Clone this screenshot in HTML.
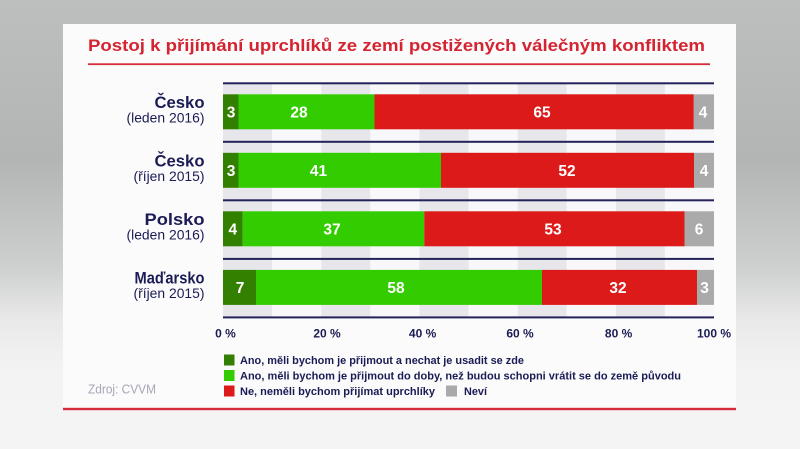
<!DOCTYPE html>
<html><head><meta charset="utf-8"><style>
html,body{margin:0;padding:0;}
body{width:800px;height:449px;overflow:hidden;background:linear-gradient(to bottom,#bdbebe 0px,#b3b4b4 160px,#cfd0d0 270px,#e9e9e9 320px,#f3f3f3 370px,#f4f4f4 449px);}
svg{display:block;}
text{font-family:"Liberation Sans",sans-serif;}
</style></head><body>
<svg width="800" height="449" viewBox="0 0 800 449" xmlns="http://www.w3.org/2000/svg">
<rect x="63" y="24" width="673" height="385" fill="#fbfbfb"/>
<rect x="63" y="407.8" width="673" height="2.4" fill="#d52b3b"/>
<text x="88" y="51" font-size="17" font-weight="bold" fill="#d42331" textLength="617" lengthAdjust="spacingAndGlyphs">Postoj k přijímání uprchlíků ze zemí postižených válečným konfliktem</text>
<rect x="88" y="63.3" width="622" height="1.8" fill="#d52b3b"/>
<g fill="#e6e6eb">
<rect x="223" y="84" width="49.1" height="233"/>
<rect x="321.2" y="84" width="49.1" height="233"/>
<rect x="419.4" y="84" width="49.1" height="233"/>
<rect x="517.6" y="84" width="49.1" height="233"/>
<rect x="615.8" y="84" width="49.1" height="233"/>
</g>
<g fill="#f8f8fa">
<rect x="272.1" y="84" width="49.1" height="233"/>
<rect x="370.3" y="84" width="49.1" height="233"/>
<rect x="468.5" y="84" width="49.1" height="233"/>
<rect x="566.7" y="84" width="49.1" height="233"/>
<rect x="664.9" y="84" width="49.1" height="233"/>
</g>
<g fill="#23235a">
<rect x="223" y="82.3" width="491" height="2"/>
<rect x="223" y="140.8" width="491" height="2"/>
<rect x="223" y="199.3" width="491" height="2"/>
<rect x="223" y="257.9" width="491" height="2"/>
<rect x="223" y="316.4" width="491" height="2"/>
</g>
<rect x="223" y="94.3" width="15.5" height="35" fill="#338000"/>
<rect x="238.5" y="94.3" width="136" height="35" fill="#33cc00"/>
<rect x="374.5" y="94.3" width="319.3" height="35" fill="#dd1a1a"/>
<rect x="693.8" y="94.3" width="20.2" height="35" fill="#aaaaaa"/>
<rect x="223" y="152.8" width="15.5" height="35" fill="#338000"/>
<rect x="238.5" y="152.8" width="202.5" height="35" fill="#33cc00"/>
<rect x="441" y="152.8" width="253" height="35" fill="#dd1a1a"/>
<rect x="694" y="152.8" width="20" height="35" fill="#aaaaaa"/>
<rect x="223" y="211.3" width="19.6" height="35" fill="#338000"/>
<rect x="242.6" y="211.3" width="181.7" height="35" fill="#33cc00"/>
<rect x="424.3" y="211.3" width="260.2" height="35" fill="#dd1a1a"/>
<rect x="684.5" y="211.3" width="29.5" height="35" fill="#aaaaaa"/>
<rect x="223" y="269.9" width="33" height="35" fill="#338000"/>
<rect x="256" y="269.9" width="286" height="35" fill="#33cc00"/>
<rect x="542" y="269.9" width="155" height="35" fill="#dd1a1a"/>
<rect x="697" y="269.9" width="17" height="35" fill="#aaaaaa"/>
<g fill="#ffffff" font-size="15.5" font-weight="bold" text-anchor="middle">
<text x="231" y="117.5">3</text>
<text x="299" y="117.5">28</text>
<text x="542" y="117.5">65</text>
<text x="703" y="117.5">4</text>
<text x="231" y="176">3</text>
<text x="318.5" y="176">41</text>
<text x="567" y="176">52</text>
<text x="704" y="176">4</text>
<text x="232.8" y="234.5">4</text>
<text x="332" y="234.5">37</text>
<text x="553" y="234.5">53</text>
<text x="699" y="234.5">6</text>
<text x="240" y="293.1">7</text>
<text x="396" y="293.1">58</text>
<text x="618" y="293.1">32</text>
<text x="704.5" y="293.1">3</text>
</g>
<g fill="#1b1b55" text-anchor="end">
<text x="204.5" y="108" font-size="17" font-weight="bold" textLength="50" lengthAdjust="spacingAndGlyphs">Česko</text>
<text x="204.5" y="122.5" font-size="13.5" textLength="78" lengthAdjust="spacingAndGlyphs">(leden 2016)</text>
<text x="204.5" y="166.5" font-size="17" font-weight="bold" textLength="50" lengthAdjust="spacingAndGlyphs">Česko</text>
<text x="204.5" y="181" font-size="13.5" textLength="71" lengthAdjust="spacingAndGlyphs">(říjen 2015)</text>
<text x="204.5" y="225" font-size="17" font-weight="bold" textLength="60" lengthAdjust="spacingAndGlyphs">Polsko</text>
<text x="204.5" y="239.5" font-size="13.5" textLength="78" lengthAdjust="spacingAndGlyphs">(leden 2016)</text>
<text x="204.5" y="283.6" font-size="17" font-weight="bold" textLength="70" lengthAdjust="spacingAndGlyphs">Maďarsko</text>
<text x="204.5" y="298.1" font-size="13.5" textLength="71" lengthAdjust="spacingAndGlyphs">(říjen 2015)</text>
</g>
<g fill="#1b1b55" font-size="12" font-weight="bold" text-anchor="middle">
<text x="225.5" y="337.5">0 %</text>
<text x="327" y="337.5">20 %</text>
<text x="422.6" y="337.5">40 %</text>
<text x="520" y="337.5">60 %</text>
<text x="618.6" y="337.5">80 %</text>
<text x="714" y="337.5">100 %</text>
</g>
<rect x="224" y="354.5" width="10.5" height="11" fill="#338000"/>
<rect x="224" y="370" width="10.5" height="11" fill="#33cc00"/>
<rect x="224" y="385.5" width="10.5" height="11" fill="#dd1a1a"/>
<rect x="446" y="385.5" width="11" height="11" fill="#aaaaaa"/>
<g fill="#1b1b55" font-size="11" font-weight="bold">
<text x="240" y="364" textLength="284" lengthAdjust="spacingAndGlyphs">Ano, měli bychom je přijmout a nechat je usadit se zde</text>
<text x="240" y="379.5" textLength="441" lengthAdjust="spacingAndGlyphs">Ano, měli bychom je přijmout do doby, než budou schopni vrátit se do země původu</text>
<text x="240" y="395" textLength="195" lengthAdjust="spacingAndGlyphs">Ne, neměli bychom přijímat uprchlíky</text>
<text x="464" y="395" textLength="23" lengthAdjust="spacingAndGlyphs">Neví</text>
</g>
<text x="88" y="393.5" font-size="13" fill="#a6a6b6" textLength="68" lengthAdjust="spacingAndGlyphs">Zdroj: CVVM</text>
</svg>
</body></html>
